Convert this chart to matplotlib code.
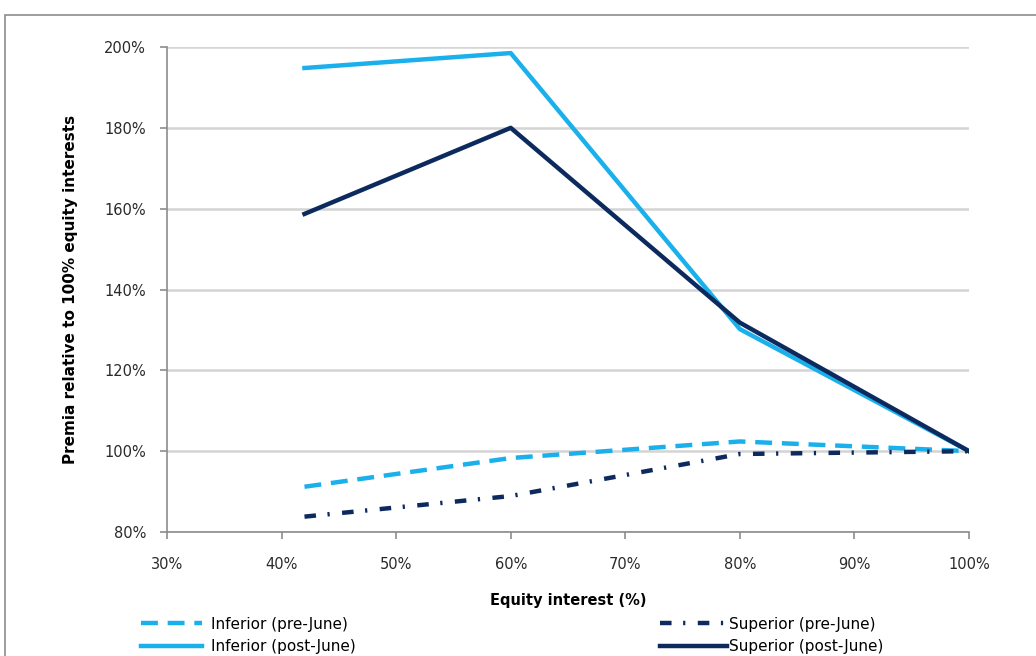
import matplotlib
matplotlib.use("Agg")
import matplotlib.pyplot as plt
from matplotlib.patches import Rectangle
from matplotlib.ticker import FuncFormatter, MultipleLocator

# Data
equity_interest = [42, 60, 80, 100]
inferior_pre = [91.2, 98.3, 102.4, 100]
superior_pre = [83.8, 88.9, 99.3, 100]
inferior_post = [194.8, 198.5, 130.2, 100]
superior_post = [158.7, 180.0, 131.8, 100]
labels = ["Inferior (pre-June)", "Inferior (post-June)",
          "Superior (pre-June)", "Superior (post-June)"]

light = "#1AB0EC"
dark = "#0D2A5E"

fig = plt.figure(figsize=(10.36, 6.56), dpi=100)
W, H = 1036, 656
ax = fig.add_axes([167 / W, 1 - 532 / H, (969 - 167) / W, (532 - 47) / H])

# Outer chart border
fig.patches.append(Rectangle((5 / W, -0.1), 1.2, 1 - 15 / H + 0.1,
                             transform=fig.transFigure, fill=False,
                             edgecolor="#8C8C8C", linewidth=1.2))

lw = 3.2
l1, = ax.plot(equity_interest, inferior_pre, color=light, lw=lw,
              dashes=(3.8, 2.2), solid_capstyle="butt")
l2, = ax.plot(equity_interest, inferior_post, color=light, lw=lw)
l3, = ax.plot(equity_interest, superior_pre, color=dark, lw=lw,
              dashes=(2.6, 2.6, 0.5, 2.8))
l4, = ax.plot(equity_interest, superior_post, color=dark, lw=lw)

ax.set_xlim(30, 100)
ax.set_ylim(80, 200)
ax.xaxis.set_major_locator(MultipleLocator(10))
ax.yaxis.set_major_locator(MultipleLocator(20))
ax.xaxis.set_major_formatter(FuncFormatter(lambda v, p: f"{v:.0f}%"))
ax.yaxis.set_major_formatter(FuncFormatter(lambda v, p: f"{v:.0f}%"))
ax.grid(axis="y", color="#D4D4D4", linewidth=1.8)
ax.set_axisbelow(True)
for s in ["top", "right"]:
    ax.spines[s].set_visible(False)
for s in ["left", "bottom"]:
    ax.spines[s].set_color("#8C8C8C")
    ax.spines[s].set_linewidth(1.2)
ax.tick_params(axis="both", colors="#8C8C8C", labelcolor="#2A2A2A",
               labelsize=10.5, length=5, width=1.2)
ax.tick_params(axis="y", pad=10)
ax.tick_params(axis="x", pad=13)

ax.set_xlabel("Equity interest (%)", fontsize=10.5, fontweight="bold", labelpad=15)
ax.set_ylabel("Premia relative to 100% equity interests", fontsize=11,
              fontweight="bold", labelpad=19)

leg1 = fig.legend([l1, l2], labels[:2], loc="upper left",
                  bbox_to_anchor=(133 / W, 1 - 609 / H), frameon=False,
                  fontsize=11, handlelength=4.0, handletextpad=0.6,
                  labelspacing=0.5, borderpad=0)
leg2 = fig.legend([l3, l4], labels[2:], loc="upper left",
                  bbox_to_anchor=(652 / W, 1 - 609 / H), frameon=False,
                  fontsize=11, handlelength=4.4, handletextpad=0.15,
                  labelspacing=0.5, borderpad=0)

fig.savefig("out.png", dpi=100)
